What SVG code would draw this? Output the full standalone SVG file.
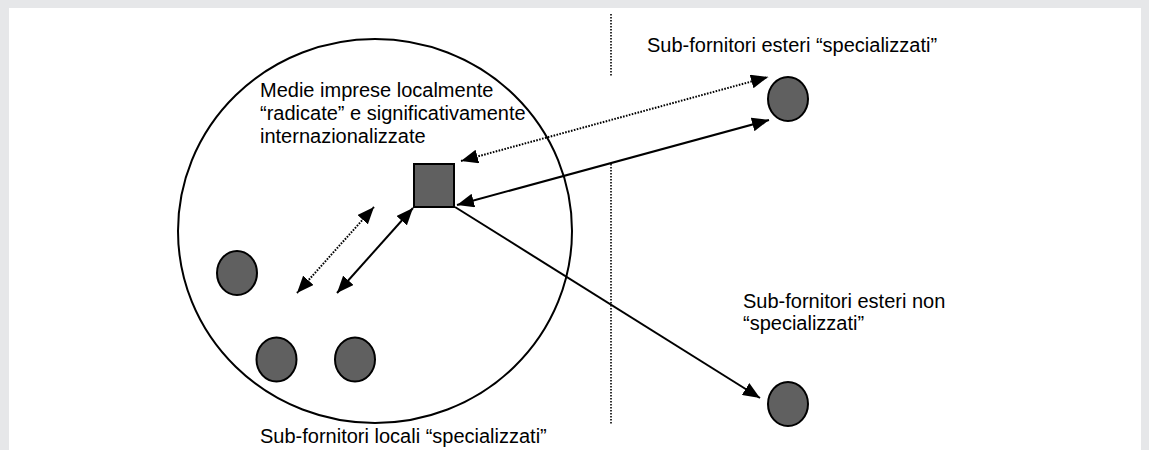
<svg xmlns="http://www.w3.org/2000/svg" width="1149" height="450" viewBox="0 0 1149 450">
<defs>
<marker id="ah" viewBox="0 0 17 14" refX="17" refY="7" markerWidth="17" markerHeight="14" markerUnits="userSpaceOnUse" orient="auto-start-reverse">
<path d="M0,0 L17,7 L0,14 Z" fill="#000"/>
</marker>
<style>
.lbl{font-family:"Liberation Sans",Arial,sans-serif;font-size:20px;fill:#000}
.node{fill:#606060;stroke:#000;stroke-width:2}
.solid{stroke:#000;stroke-width:2;fill:none}
.dot{stroke:#000;stroke-width:2;fill:none;stroke-dasharray:1.6 1.4}
.vdot{stroke:#000;stroke-width:1.6;fill:none;stroke-dasharray:1.5 1.5}
</style>
</defs>
<rect x="0" y="0" width="1149" height="450" fill="#e6e7e9"/>
<rect x="9" y="8" width="1132" height="442" fill="#ffffff"/>

<g id="separator">
<line class="vdot" x1="611" y1="14" x2="611" y2="76"/>
<line class="vdot" x1="611" y1="164" x2="611" y2="425"/>
</g>

<g id="cluster">
<ellipse cx="375" cy="231" rx="197" ry="192" fill="none" stroke="#000" stroke-width="2"/>
</g>

<g id="connectors">
<line class="dot" x1="461" y1="161" x2="768" y2="77" marker-start="url(#ah)" marker-end="url(#ah)"/>
<line class="solid" x1="457" y1="205" x2="769" y2="120" marker-start="url(#ah)" marker-end="url(#ah)"/>
<line class="solid" x1="455" y1="207" x2="760" y2="398" marker-end="url(#ah)"/>
<line class="solid" x1="413" y1="208" x2="337" y2="293" marker-start="url(#ah)" marker-end="url(#ah)"/>
<line class="dot" x1="374" y1="207" x2="297" y2="293" marker-start="url(#ah)" marker-end="url(#ah)"/>
</g>

<g id="impresa">
<rect class="node" x="414" y="164" width="40" height="43"/>
</g>
<g id="estero-specializzato">
<ellipse class="node" cx="788" cy="99" rx="20" ry="22"/>
</g>
<g id="estero-non-specializzato">
<ellipse class="node" cx="788" cy="404" rx="20" ry="22"/>
</g>
<g id="locale-1">
<ellipse class="node" cx="237" cy="273" rx="20" ry="22"/>
</g>
<g id="locale-2">
<ellipse class="node" cx="276.5" cy="359.5" rx="20" ry="22"/>
</g>
<g id="locale-3">
<ellipse class="node" cx="355" cy="359.5" rx="20" ry="22"/>
</g>

<g id="labels">
<text class="lbl" x="260" y="97">Medie imprese localmente</text>
<text class="lbl" x="260" y="120">“radicate” e significativamente</text>
<text class="lbl" x="260" y="143">internazionalizzate</text>
<text class="lbl" x="647" y="52">Sub-fornitori esteri “specializzati”</text>
<text class="lbl" x="743" y="308">Sub-fornitori esteri non</text>
<text class="lbl" x="743" y="330">“specializzati”</text>
<text class="lbl" x="260" y="443">Sub-fornitori locali “specializzati”</text>
</g>
</svg>
